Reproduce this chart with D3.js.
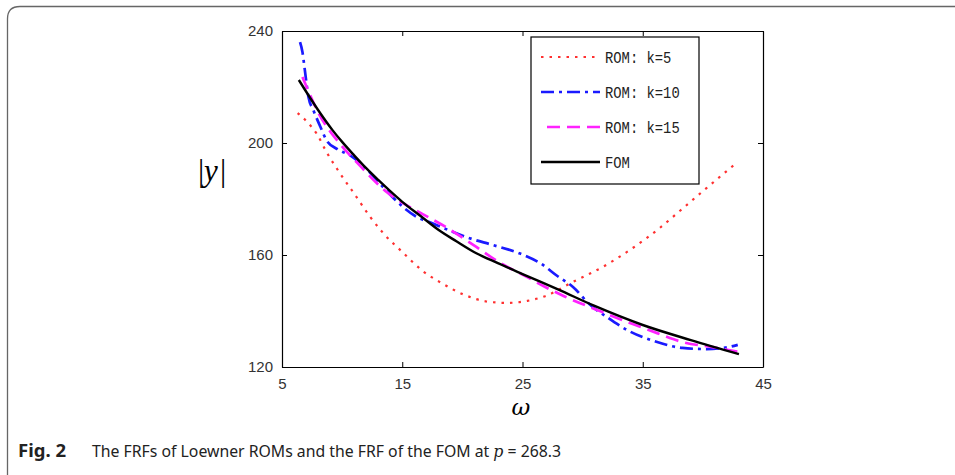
<!DOCTYPE html>
<html>
<head>
<meta charset="utf-8">
<script src="https://cdn.jsdelivr.net/npm/d3@7"></script>
<style>
  body { margin: 0; background: #fff; }
  svg { display: block; }
</style>
</head>
<body>
<div id="my_dataviz"></div>
<script>
// data
var xTicks = [5, 15, 25, 35, 45];
var yTicks = [120, 160, 200, 240];

var fomW = [6.4, 8, 9.2, 10, 11, 12, 13, 14, 15, 16.5, 18, 19.5, 21, 23, 25, 28, 31, 35, 39, 43];
var fomV = [222.5, 211.8, 204.6, 200.4, 195.6, 191, 186.8, 182.8, 179, 174, 169, 164.9, 161, 157, 153.2, 147.6, 141.8, 135, 129.6, 124.6];

var k5W = [6.3, 7.1, 7.9, 8.7, 9.8, 11.2, 12.3, 13.4, 15.1, 16.7, 18.1, 20.1, 22, 23.7, 25.4, 27, 29.2, 31.7, 34.2, 36.4, 38.1, 40.3, 42.8];
var k5V = [210.7, 207.5, 203.2, 196.8, 189.3, 180.7, 173.8, 167.9, 160.7, 154.3, 150.4, 145.9, 143.4, 142.9, 143.6, 145.5, 150.4, 155.8, 162.6, 169.6, 175.8, 183.9, 192.9];

var k10W = [6.5, 6.7, 6.9, 7.2, 7.6, 8.2, 8.7, 9.6, 10.7, 12.1, 13.4, 15.1, 16.2, 17.6, 19, 20.6, 22.5, 24.8, 26.5, 27.9, 29.2, 30.6, 32, 33.7, 36.2, 38.3, 40.3, 42, 42.9];
var k10V = [236, 232.5, 226, 216.4, 211.8, 205.7, 201, 197.8, 195.5, 190.4, 184.3, 177, 173.6, 171.2, 168.6, 166, 163.6, 160.5, 157, 152.5, 148.6, 142.3, 137.9, 133.2, 128.9, 126.8, 126.4, 127, 127.9];

var k15W = [6.7, 8, 9.8, 11.2, 13.7, 15.1, 16.7, 18.7, 20.9, 23.1, 25.4, 26.7, 28.5, 31.2, 33.7, 36.2, 38.3, 40.8, 43];
var k15V = [223.6, 211, 199.8, 193.2, 182.5, 178.4, 174.6, 169.8, 163.6, 157.3, 152.1, 149, 145.2, 140.4, 136.1, 132.1, 128.9, 127.1, 125.4];

var legendLabels = ["ROM: k=5", "ROM: k=10", "ROM: k=15", "FOM"];

// set the dimensions and margins of the graph
var width = 955, height = 475;
var margin = {top: 31, right: 192, bottom: 108, left: 282};
var plotW = width - margin.left - margin.right,
    plotH = height - margin.top - margin.bottom;

var svg = d3.select("#my_dataviz")
  .append("svg")
    .attr("width", width)
    .attr("height", height);

// figure frame (top + left with rounded corner)
svg.append("path")
  .attr("d", "M7.5,475 L7.5,19 Q7.5,6.5 20,6.5 L955,6.5")
  .attr("fill", "none")
  .attr("stroke", "#666")
  .attr("stroke-width", 1.3);

var g = svg.append("g")
  .attr("transform", "translate(" + margin.left + "," + margin.top + ")");

var x = d3.scaleLinear().domain([5, 45]).range([0, plotW]);
var y = d3.scaleLinear().domain([120, 240]).range([plotH, 0]);

// axes, MATLAB style with inward ticks on all four sides
var tickFont = "'Liberation Sans', Arial, sans-serif";
var xAxis = g.append("g")
  .attr("transform", "translate(0," + plotH + ")")
  .call(d3.axisBottom(x).tickValues(xTicks).tickSizeInner(-5).tickSizeOuter(0).tickPadding(11));
var yAxis = g.append("g")
  .call(d3.axisLeft(y).tickValues(yTicks).tickSizeInner(-5).tickSizeOuter(0).tickPadding(9));
var xTop = g.append("g")
  .call(d3.axisTop(x).tickValues(xTicks).tickSizeInner(-5).tickSizeOuter(0).tickFormat(""));
var yRight = g.append("g")
  .attr("transform", "translate(" + plotW + ",0)")
  .call(d3.axisRight(y).tickValues(yTicks).tickSizeInner(-5).tickSizeOuter(0).tickFormat(""));

[xAxis, yAxis, xTop, yRight].forEach(function(a) {
  a.select(".domain").attr("stroke", "#000").attr("stroke-width", 1.2);
  a.selectAll(".tick line").attr("stroke", "#000");
  a.selectAll("text")
    .attr("font-family", tickFont)
    .attr("font-size", 15)
    .attr("fill", "#333");
});

// series
var series = [
  {w: k5W, v: k5V, color: "#ff3030", dash: "2.5,6", width: 2.2},
  {w: k10W, v: k10V, color: "#1a1aff", dash: "13,5,3,5", width: 2.7},
  {w: k15W, v: k15V, color: "#ff22ff", dash: "13,7", width: 2.7},
  {w: fomW, v: fomV, color: "#000", dash: null, width: 2.4}
];

series.forEach(function(s) {
  var pts = s.w.map(function(d, i) { return [d, s.v[i]]; });
  g.append("path")
    .datum(pts)
    .attr("fill", "none")
    .attr("stroke", s.color)
    .attr("stroke-width", s.width)
    .attr("stroke-dasharray", s.dash)
    .attr("d", d3.line()
      .curve(d3.curveMonotoneX)
      .x(function(d) { return x(d[0]); })
      .y(function(d) { return y(d[1]); })
    );
});

// legend
var leg = svg.append("g").attr("transform", "translate(531,37)");
leg.append("rect")
  .attr("width", 168).attr("height", 147)
  .attr("fill", "#fff").attr("stroke", "#000").attr("stroke-width", 1.2);
legendLabels.forEach(function(lab, i) {
  var s = series[i];
  var yy = 20 + i * 35;
  leg.append("line")
    .attr("x1", i == 2 ? 16 : 10).attr("x2", 69)
    .attr("y1", yy).attr("y2", yy)
    .attr("stroke", s.color)
    .attr("stroke-width", s.width)
    .attr("stroke-dasharray", s.dash);
  leg.append("text")
    .attr("x", 74).attr("y", yy)
    .attr("dy", "0.36em")
    .attr("font-family", "'Liberation Mono', 'DejaVu Sans Mono', monospace")
    .attr("font-size", 16)
    .attr("textLength", lab.length * 8.3)
    .attr("lengthAdjust", "spacingAndGlyphs")
    .attr("fill", "#222")
    .text(lab);
});

// axis labels
svg.append("text")
  .attr("x", 521).attr("y", 415)
  .attr("text-anchor", "middle")
  .attr("font-family", "'DejaVu Serif', 'Liberation Serif', serif")
  .attr("font-style", "italic")
  .attr("font-size", 23)
  .text("ω");

var yl = svg.append("text")
  .attr("x", 212).attr("y", 181)
  .attr("text-anchor", "middle")
  .attr("font-family", "'Liberation Serif', serif")
  .attr("font-size", 31);
yl.append("tspan").text("|");
yl.append("tspan").attr("font-style", "italic").text("y");
yl.append("tspan").attr("dx", 2).text("|");

// caption
var cap = svg.append("text")
  .attr("x", 18).attr("y", 457)
  .attr("font-family", "'Noto Sans', 'Open Sans', sans-serif")
  .attr("font-size", 15.8)
  .attr("fill", "#222");
cap.append("tspan").attr("font-weight", "bold").attr("font-size", 18.5).text("Fig. 2");
cap.append("tspan").attr("dx", 26).text("The FRFs of Loewner ROMs and the FRF of the FOM at ");
cap.append("tspan").attr("font-style", "italic").attr("font-family", "'DejaVu Serif', serif").text("p");
cap.append("tspan").text(" = 268.3");
</script>
</body>
</html>
